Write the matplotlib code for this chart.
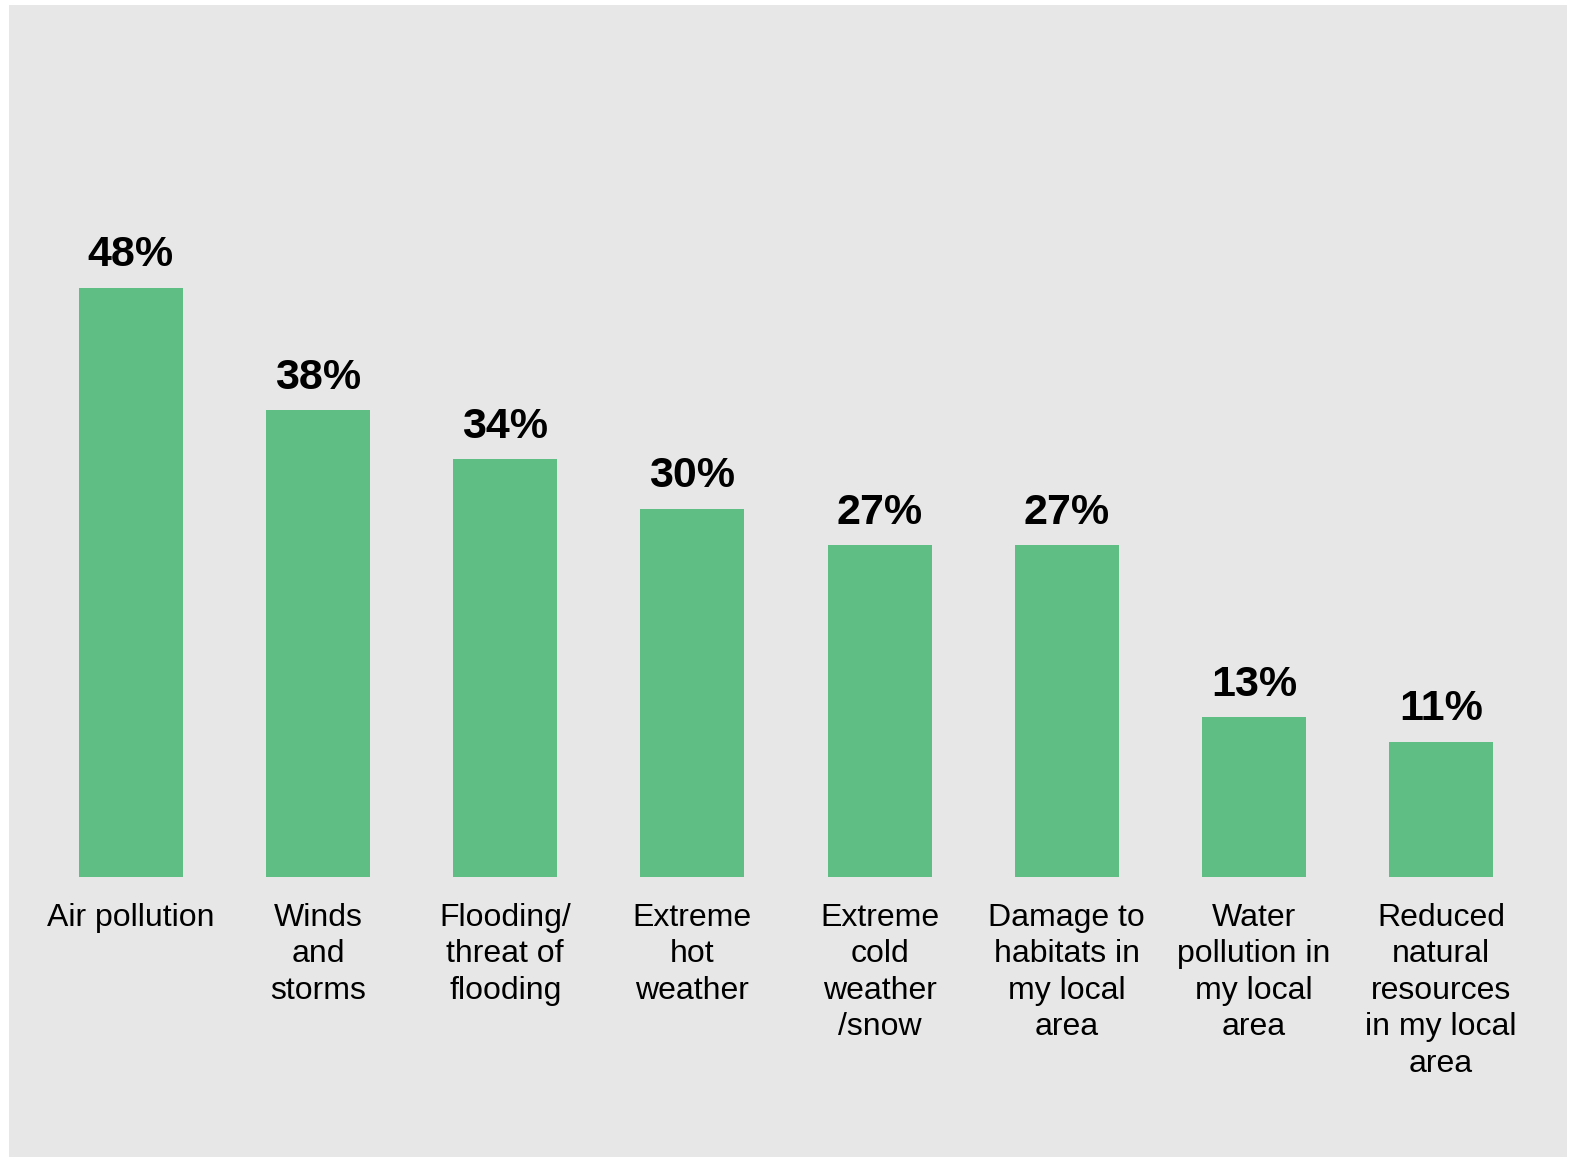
import matplotlib.pyplot as plt
from matplotlib.patches import Rectangle

categories = ['Air pollution', 'Winds\nand\nstorms', 'Flooding/\nthreat of\nflooding',
              'Extreme\nhot\nweather', 'Extreme\ncold\nweather\n/snow',
              'Damage to\nhabitats in\nmy local\narea', 'Water\npollution in\nmy local\narea',
              'Reduced\nnatural\nresources\nin my local\narea']
values = [48, 38, 34, 30, 27, 27, 13, 11]

plt.rcParams['font.family'] = ['Liberation Sans', 'DejaVu Sans']

fig = plt.figure(figsize=(15.78, 11.57), dpi=100)
fig.patch.set_facecolor('white')
# grey panel
fig.add_artist(Rectangle((9 / 1578, 0.0), (1567 - 9) / 1578, (1157 - 5) / 1157,
                         transform=fig.transFigure, facecolor='#e7e7e7', edgecolor='none', zorder=0))

ax = fig.add_axes([0.0236, 0.2424, 0.9490, 0.6362])
ax.set_facecolor('none')
x = range(len(values))
bars = ax.bar(x, values, width=0.555, color='#5fbe84')
ax.set_xlim(-0.5, len(values) - 0.5)
ax.set_ylim(0, 60)

for b, v in zip(bars, values):
    ax.annotate(f'{v}%', (b.get_x() + b.get_width() / 2, v), xytext=(0, 9),
                textcoords='offset points', ha='center', va='bottom',
                fontsize=31, fontweight='bold')

ax.set_xticks(list(x))
ax.set_xticklabels(categories, fontsize=23, linespacing=1.28)
ax.tick_params(axis='x', length=0, pad=19)
ax.set_yticks([])
for s in ax.spines.values():
    s.set_visible(False)

fig.savefig('out.png', dpi=100)
